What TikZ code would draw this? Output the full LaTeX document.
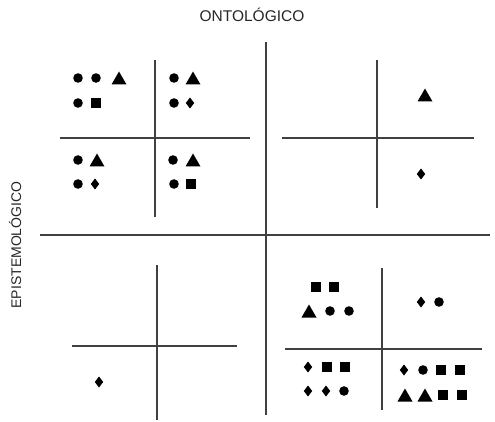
\documentclass[tikz,border=0pt]{standalone}
\usepackage{fontspec}
\setmainfont{Liberation Sans}
\begin{document}
\begin{tikzpicture}[
  x=1pt, y=-1pt,
  axis/.style={draw=black!75, line width=1.2pt},
  label/.style={text=black!85, inner sep=0pt},
  dot/.pic={\fill (0,0) circle (4.8);},
  tri/.pic={\fill (-7.5,6.5) -- (7.5,6.5) -- (0,-6.5) -- cycle;},
  sq/.pic={\fill (-5,-5) rectangle (5,5);},
  dia/.pic={\fill (-4.2,0) -- (0,-5.5) -- (4.2,0) -- (0,5.5) -- cycle;}
]
\useasboundingbox (0,0) rectangle (495,422);
% titles
\node[label, font=\fontsize{15.5}{18}\selectfont] (onto) at (252,15) {ONTOLÓGICO};
\node[label, font=\fontsize{14}{16}\selectfont, rotate=90] (episte) at (15,245) {EPISTEMOLÓGICO};
% main axes
\draw[axis] (266,42) -- (266,415);
\draw[axis] (40,235) -- (490,235);
% small axes
\draw[axis] (155,60) -- (155,217);
\draw[axis] (60,138) -- (250,138);
\draw[axis] (377,60) -- (377,208);
\draw[axis] (282,138) -- (474,138);
\draw[axis] (157,265) -- (157,420);
\draw[axis] (72,346) -- (237,346);
\draw[axis] (382,268) -- (382,410);
\draw[axis] (285,349) -- (482,349);
% symbols
\foreach \x/\y in {78/78, 96/78, 78/103, 174/78, 174/103, 78/160, 78/184,
                   173/160, 174/184, 330/311, 349/311, 439/302, 344/391, 423/370}
  \pic at (\x,\y) {dot};
\foreach \x/\y in {119/78, 193/78, 97/160, 193/160, 425/95, 309/311,
                   405/395, 425/395}
  \pic at (\x,\y) {tri};
\foreach \x/\y in {96/103, 191/184, 316/287, 334/287, 327/367, 345/367,
                   441/370, 460/370, 443/395, 462/395}
  \pic at (\x,\y) {sq};
\foreach \x/\y in {190/103, 95/184, 421/174, 99/382, 421/302, 308/367,
                   308/391, 326/391, 404/370}
  \pic at (\x,\y) {dia};
\end{tikzpicture}
\end{document}
